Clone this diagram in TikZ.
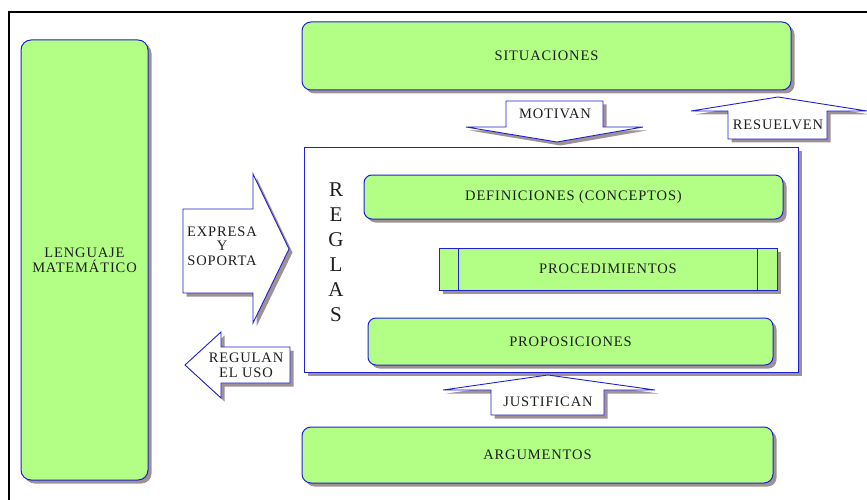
\documentclass[tikz,border=0pt]{standalone}
\usepackage{fontspec}
\setmainfont{Liberation Serif}[LetterSpace=6]
\usetikzlibrary{shadows,calc}
\definecolor{boxgreen}{RGB}{179,255,134}
\definecolor{edgeblue}{RGB}{32,32,210}
\definecolor{shadowgray}{RGB}{158,146,148}
\definecolor{inkgray}{RGB}{30,30,30}
\tikzset{
  x=1pt, y=-1pt,
  shade3/.style={drop shadow={shadow xshift=3.5pt, shadow yshift=-3.5pt,
                 fill=shadowgray, opacity=1}},
  labeltext/.style={font=\fontsize{14.5}{16}\selectfont, text=inkgray, align=center},
  greenbox/.style={draw=edgeblue, line width=1pt, fill=boxgreen,
                   rounded corners=9pt, shade3, labeltext, inner sep=0pt},
  procbox/.style={draw=edgeblue, line width=1pt, fill=boxgreen,
                  shade3, labeltext, inner sep=0pt},
  frame/.style={draw=edgeblue, line width=1pt, fill=white, shade3},
  blockarrow/.style={draw=edgeblue, line width=0.9pt, fill=white, shade3,
                     line join=miter},
}
\begin{document}
\begin{tikzpicture}
\useasboundingbox (0,0) rectangle (867,500);

% page frame (top and left edges)
\draw[line width=1.6pt, black] (9,500) |- (867,12);

% language column
\node[greenbox, rounded corners=10pt, minimum width=127pt, minimum height=440pt]
  (lenguaje) at (84.5,260) {LENGUAJE\\[-1pt]MATEMÁTICO};

% situations and arguments
\node[greenbox, minimum width=489pt, minimum height=68pt]
  (situaciones) at (546.5,56) {SITUACIONES};
\node[greenbox, minimum width=471pt, minimum height=56pt]
  (argumentos) at (537.5,455) {ARGUMENTOS};

% rules frame
\node[frame, minimum width=494pt, minimum height=225pt, inner sep=0pt]
  (reglasframe) at (551,259.5) {};
\node[font=\fontsize{21}{25}\selectfont, text=inkgray, align=center, inner sep=0pt]
  (reglas) at (336,252) {R\\E\\G\\L\\A\\S};

\node[greenbox, rounded corners=8pt, minimum width=419pt, minimum height=44pt]
  (definiciones) at (573.5,197) {DEFINICIONES (CONCEPTOS)};
\node[procbox, minimum width=338pt, minimum height=42pt]
  (procedimientos) at (608,269) {PROCEDIMIENTOS};
\draw[edgeblue, line width=1pt]
  ($(procedimientos.north west)+(20,0)$) -- ($(procedimientos.south west)+(20,0)$)
  ($(procedimientos.north east)+(-20,0)$) -- ($(procedimientos.south east)+(-20,0)$);
\node[greenbox, rounded corners=8pt, minimum width=405pt, minimum height=47pt]
  (proposiciones) at (570.5,341.5) {PROPOSICIONES};

% block arrows
\draw[blockarrow] (506,101) -- (603,101) -- (603,127) -- (643,127) -- (557,142)
  -- (466,127) -- (506,127) -- cycle;
\node[labeltext] (motivan) at (555,114) {MOTIVAN};

\draw[blockarrow] (728,139) -- (728,111) -- (691,111) -- (778,97) -- (867,111)
  -- (827,111) -- (827,139) -- cycle;
\node[labeltext] (resuelven) at (778,125) {RESUELVEN};

\draw[blockarrow] (491,415) -- (491,390) -- (443,390) -- (548,375) -- (655,390)
  -- (604,390) -- (604,415) -- cycle;
\node[labeltext] (justifican) at (548,402) {JUSTIFICAN};

\draw[blockarrow] (183,209) -- (253,209) -- (253,174) -- (289,249) -- (253,323)
  -- (253,293) -- (183,293) -- cycle;
\node[labeltext, font=\fontsize{14.5}{14.5}\selectfont] (expresa) at (222,246)
  {EXPRESA\\Y\\SOPORTA};

\draw[blockarrow] (290,347) -- (221,347) -- (221,332) -- (185,365) -- (221,398)
  -- (221,383) -- (290,383) -- cycle;
\node[labeltext, font=\fontsize{14.5}{15}\selectfont] (regulan) at (246,365)
  {REGULAN\\EL USO};
\end{tikzpicture}
\end{document}
